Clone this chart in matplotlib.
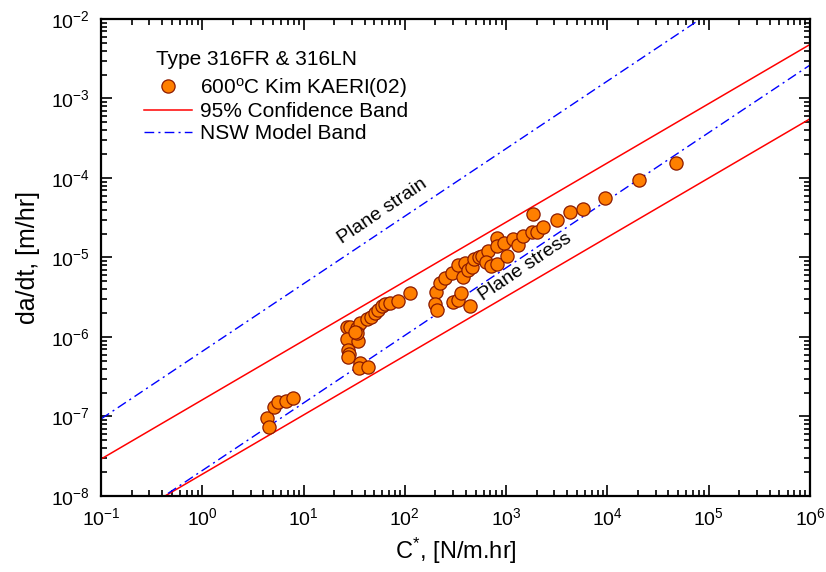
import numpy as np
import matplotlib
matplotlib.use("Agg")
import matplotlib.pyplot as plt
from matplotlib import font_manager
from matplotlib.ticker import LogLocator, NullFormatter

names = {f.name for f in font_manager.fontManager.ttflist}
narrow = "Liberation Sans Narrow" if "Liberation Sans Narrow" in names else "Liberation Sans"
plt.rcParams['font.family'] = [narrow, 'DejaVu Sans']
plt.rcParams['mathtext.default'] = 'regular'

# C* [N/m.hr] and da/dt [m/hr], 600C Kim KAERI(02)
cstar = [4.32, 4.52, 5.14, 5.62, 6.65, 7.80,
         26.6, 28.7, 33.4, 36.0, 42.0, 45.9, 50.7, 54.6, 59.0, 63.6, 71.3, 86.1, 112,
         26.6, 34.7, 33.4, 32.1, 27.6, 28.2, 27.6, 36.0, 35.5, 43.5,
         203, 198, 209, 222, 249, 290, 337, 377, 392, 422, 457, 481, 542, 573,
         665, 632, 703, 817, 806, 806, 951, 1011, 1159, 1318, 1476, 1786, 2000,
         2324, 1828, 3155, 4268, 5693, 9441, 20600, 47400,
         297, 337, 358, 440]
dadt = [9.7e-8, 7.4e-8, 1.33e-7, 1.51e-7, 1.58e-7, 1.69e-7,
        1.35e-6, 1.35e-6, 1.29e-6, 1.49e-6, 1.67e-6, 1.80e-6, 1.99e-6, 2.19e-6, 2.46e-6,
        2.60e-6, 2.70e-6, 2.86e-6, 3.55e-6,
        9.35e-7, 9.0e-7, 1.11e-6, 1.17e-6, 6.86e-7, 6.1e-7, 5.65e-7, 4.75e-7, 4.04e-7, 4.23e-7,
        3.72e-6, 2.60e-6, 2.19e-6, 4.73e-6, 5.57e-6, 6.44e-6, 8.05e-6, 5.74e-6, 8.61e-6,
        6.97e-6, 7.66e-6, 9.48e-6, 1.02e-5, 1.04e-5,
        1.22e-5, 8.85e-6, 7.81e-6, 8.28e-6, 1.75e-5, 1.40e-5, 1.51e-5, 1.05e-5, 1.69e-5,
        1.44e-5, 1.86e-5, 2.11e-5, 2.11e-5,
        2.44e-5, 3.52e-5, 2.96e-5, 3.77e-5, 4.11e-5, 5.65e-5, 9.44e-5, 1.55e-4,
        2.78e-6, 2.92e-6, 3.55e-6, 2.46e-6]

# band lines: da/dt = A * C*^n
conf_n = 0.745
conf_A = [1.62e-7, 1.88e-8]
nsw_n = 0.85
nsw_A = [6.6e-7, 2.09e-8]   # plane strain, plane stress

fig = plt.figure(figsize=(8.26, 5.72), dpi=100)
ax = fig.add_axes([0.1223, 0.1329, 0.8583, 0.8339])

c = np.logspace(-1, 6, 200)
for i, A in enumerate(conf_A):
    ax.plot(c, A * c ** conf_n, color='#FF0000', lw=1.1,
            label='95% Confidence Band' if i == 0 else None)
for i, A in enumerate(nsw_A):
    ax.plot(c, A * c ** nsw_n, color='#0000FF', lw=1.0, dashes=(7, 3, 1.5, 3),
            label='NSW Model Band' if i == 0 else None)

ax.plot(cstar, dadt, 'o', ms=9.5, mfc='#FF7F00', mec='#8B1A00', mew=0.9,
        label='600$^{o}$C Kim KAERI(02)', zorder=5)

ax.set_xscale('log')
ax.set_yscale('log')
ax.set_xlim(1e-1, 1e6)
ax.set_ylim(1e-8, 1e-2)

ax.xaxis.set_major_locator(LogLocator(base=10, numticks=20))
ax.yaxis.set_major_locator(LogLocator(base=10, numticks=20))
ax.xaxis.set_minor_locator(LogLocator(base=10, subs=np.arange(2, 10), numticks=20))
ax.yaxis.set_minor_locator(LogLocator(base=10, subs=np.arange(2, 10), numticks=20))
ax.xaxis.set_minor_formatter(NullFormatter())
ax.yaxis.set_minor_formatter(NullFormatter())
ax.tick_params(which='both', direction='in', top=True, right=True, width=1.2)
ax.tick_params(which='major', length=8, labelsize=14, pad=8)
ax.tick_params(which='minor', length=4.5)
for s in ax.spines.values():
    s.set_linewidth(1.6)

ax.set_xlabel('C$^{*}$, [N/m.hr]', fontsize=17, labelpad=5)
ax.set_ylabel('da/dt, [m/hr]', fontsize=18, labelpad=8)

ax.text(59.4, 3.85e-5, 'Plane strain', fontsize=14, rotation=34,
        ha='center', va='center', rotation_mode='anchor')
ax.text(1535, 7.6e-6, 'Plane stress', fontsize=14, rotation=34,
        ha='center', va='center', rotation_mode='anchor')

ax.text(0.078, 0.9145, 'Type 316FR & 316LN', transform=ax.transAxes,
        fontsize=15, family=['Liberation Sans', 'DejaVu Sans'], va='center')
h, l = ax.get_legend_handles_labels()
order = [2, 0, 1]
ax.legend([h[i] for i in order], [l[i] for i in order], loc='upper left',
          bbox_to_anchor=(0.0485, 0.898), frameon=False, handlelength=2.3,
          handletextpad=0.4, labelspacing=0.12, borderaxespad=0,
          prop={'family': 'Liberation Sans', 'size': 15})

fig.savefig('out.png', dpi=100)
